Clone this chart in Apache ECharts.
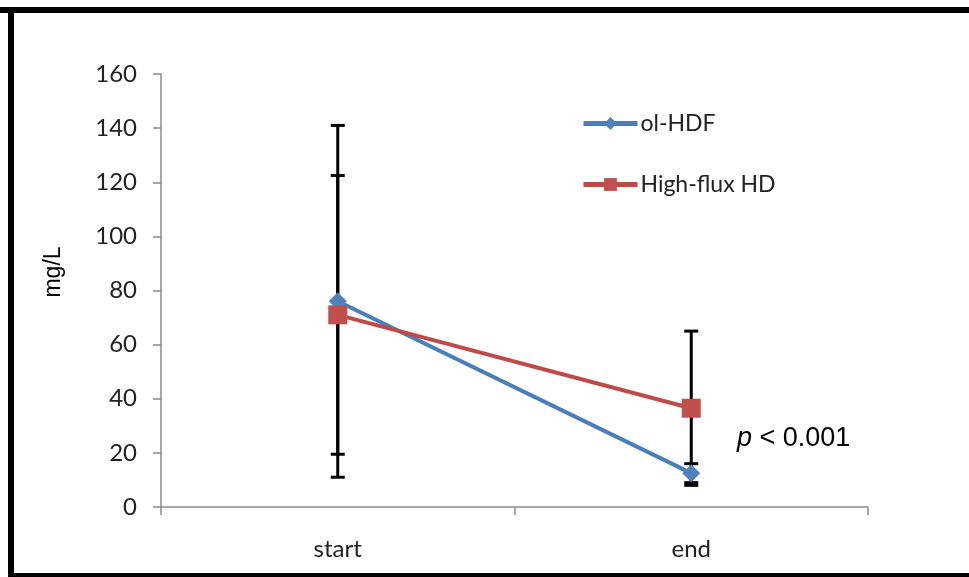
<!DOCTYPE html>
<html>
<head>
<meta charset="utf-8">
<script src="https://cdn.jsdelivr.net/npm/echarts@6/dist/echarts.min.js"></script>
<style>html,body{margin:0;padding:0;background:#fff;overflow:hidden}#c{width:969px;height:577px}</style>
</head>
<body>
<div id="c"></div>
<script>
var categories = ['start', 'end'];
var yTicks = [0, 20, 40, 60, 80, 100, 120, 140, 160];
var hdfMean = [76, 12.5];
var hdfHigh = [141, 16];
var hdfLow = [11, 9];
var hdMean = [71, 36.5];
var hdHigh = [122.5, 65];
var hdLow = [19.5, 8];
var seriesNames = ['ol-HDF', 'High-flux HD'];
var yAxisTitle = 'mg/L';

var chart = echarts.init(document.getElementById('c'), null, {renderer: 'canvas'});

function errData(low, high) {
  return categories.map(function (c, i) { return [i, low[i], high[i]]; });
}
function errRender(params, api) {
  var x = api.value(0);
  var lo = api.coord([x, api.value(1)]);
  var hi = api.coord([x, api.value(2)]);
  var cw = 7;
  var st = {stroke: '#000', lineWidth: 3};
  return {
    type: 'group',
    children: [
      {type: 'line', shape: {x1: lo[0], y1: lo[1], x2: hi[0], y2: hi[1]}, style: st},
      {type: 'line', shape: {x1: lo[0] - cw, y1: lo[1], x2: lo[0] + cw, y2: lo[1]}, style: st},
      {type: 'line', shape: {x1: hi[0] - cw, y1: hi[1], x2: hi[0] + cw, y2: hi[1]}, style: st}
    ]
  };
}

var legendColors = ['#4A7EBB', '#BE4B48'];

var option = {
  backgroundColor: '#fff',
  animation: false,
  grid: {left: 161, right: 101, top: 74, bottom: 70},
  legend: {
    orient: 'vertical',
    left: 576,
    top: 107,
    itemGap: 38,
    itemWidth: 54,
    itemHeight: 16,
    data: seriesNames.map(function (n, i) {
      return {name: n, lineStyle: {width: 5, color: legendColors[i]}};
    }),
    textStyle: {fontFamily: 'Lato', fontSize: 23, color: '#222', padding: [0, 0, 0, -2]}
  },
  xAxis: {
    type: 'category',
    data: categories,
    boundaryGap: true,
    axisLine: {lineStyle: {color: '#8a8a8a', width: 1.5}},
    axisTick: {show: true, inside: false, length: 8, lineStyle: {color: '#8a8a8a', width: 1.5}},
    axisLabel: {fontFamily: 'Lato', fontSize: 24, color: '#222', margin: 30}
  },
  yAxis: {
    type: 'value',
    min: yTicks[0],
    max: yTicks[yTicks.length - 1],
    interval: 20,
    axisLine: {show: true, lineStyle: {color: '#8a8a8a', width: 1.5}},
    axisTick: {show: true, length: 8, lineStyle: {color: '#8a8a8a', width: 1.5}},
    splitLine: {show: false},
    axisLabel: {fontFamily: 'Lato', fontSize: 24, color: '#222', margin: 24}
  },
  series: [
    {type: 'custom', name: 'errHdf', renderItem: errRender, data: errData(hdfLow, hdfHigh), z: 1, silent: true},
    {type: 'custom', name: 'errHd', renderItem: errRender, data: errData(hdLow, hdHigh), z: 1, silent: true},
    {
      type: 'line', name: seriesNames[0], data: hdfMean, z: 3,
      symbol: 'diamond', symbolSize: 18,
      itemStyle: {color: '#4F81BD'},
      lineStyle: {color: '#4A7EBB', width: 4}
    },
    {
      type: 'line', name: seriesNames[1], data: hdMean, z: 4,
      symbol: 'rect', symbolSize: 19,
      itemStyle: {color: '#C0504D'},
      lineStyle: {color: '#BE4B48', width: 4}
    }
  ],
  graphic: [
    {
      type: 'text', x: 54, y: 272, rotation: Math.PI / 2, z: 10,
      style: {
        text: yAxisTitle, fontFamily: 'Liberation Sans', fontSize: 23, fill: '#000',
        align: 'center', verticalAlign: 'middle'
      }
    },
    {
      type: 'text', left: 737, top: 425, z: 10,
      style: {
        text: '{i|p} < 0.001',
        fontFamily: 'Liberation Sans', fontSize: 27, fill: '#000',
        rich: {i: {fontStyle: 'italic', fontFamily: 'Liberation Sans', fontSize: 27, fill: '#000'}}
      }
    },
    {type: 'line', z: 20, silent: true, shape: {x1: 0, y1: 10, x2: 969, y2: 10}, style: {stroke: '#000', lineWidth: 6}},
    {type: 'line', z: 20, silent: true, shape: {x1: 11, y1: 7, x2: 11, y2: 577}, style: {stroke: '#000', lineWidth: 6}},
    {type: 'line', z: 20, silent: true, shape: {x1: 8, y1: 576, x2: 969, y2: 576}, style: {stroke: '#000', lineWidth: 6}}
  ]
};
chart.setOption(option);
</script>
</body>
</html>
